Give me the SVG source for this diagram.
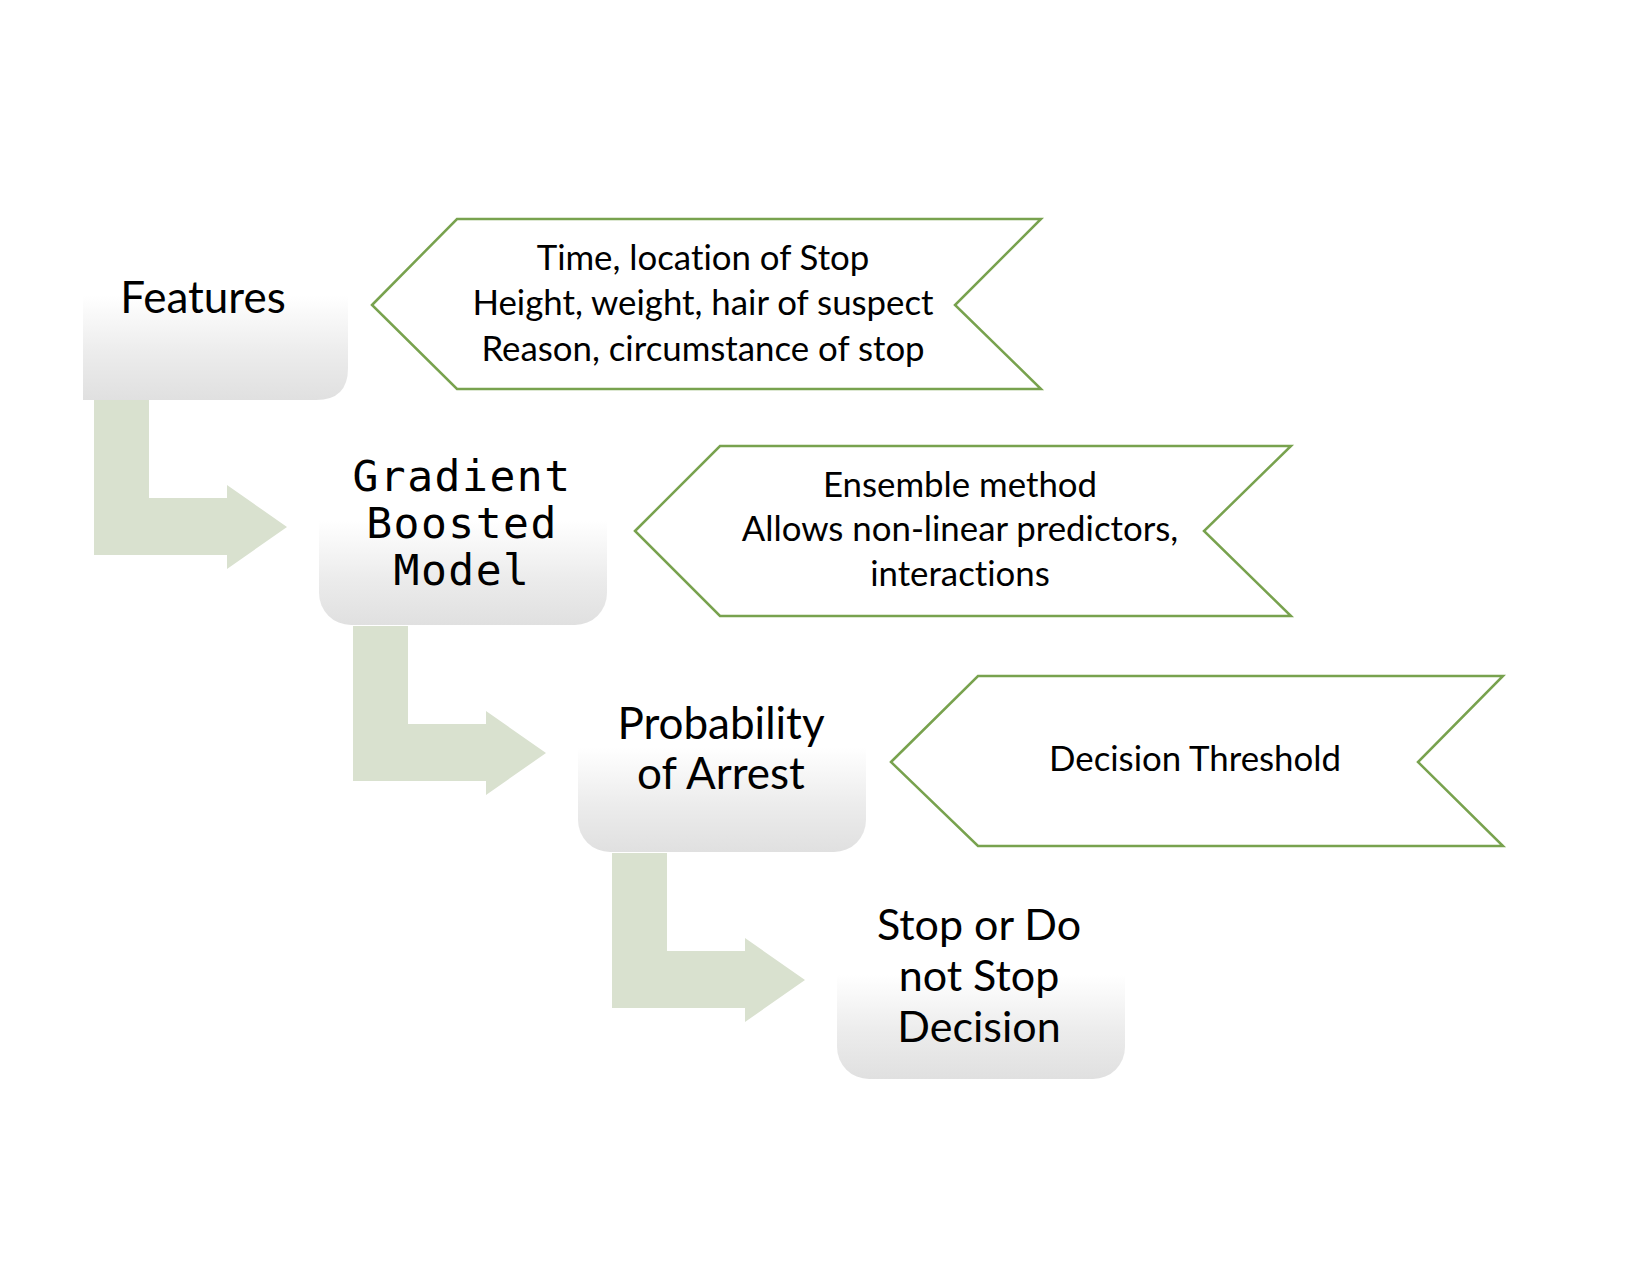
<svg xmlns="http://www.w3.org/2000/svg" width="1650" height="1275" viewBox="0 0 1650 1275">
  <defs>
    <linearGradient id="boxGrad" x1="0" y1="0" x2="0" y2="1">
      <stop offset="0" stop-color="#ffffff"/>
      <stop offset="0.45" stop-color="#ffffff"/>
      <stop offset="0.75" stop-color="#ececec"/>
      <stop offset="1" stop-color="#e0e0e0"/>
    </linearGradient>
  </defs>
  <style>
    .box { fill: url(#boxGrad); }
    .arrow { fill: #d9e1cf; }
    .callout { fill: #ffffff; stroke: #78a24e; stroke-width: 2.5; }
    .lbl { font-family: Lato, "Liberation Sans", sans-serif; font-size: 44px; fill: #000; text-anchor: middle; font-variant-ligatures: none; }
    .mono { font-family: "DejaVu Sans Mono", "Liberation Mono", monospace; font-size: 43px; fill: #000; text-anchor: middle; letter-spacing: 1.5px; }
    .txt { font-family: Lato, "Liberation Sans", sans-serif; font-size: 34.8px; fill: #000; text-anchor: middle; font-variant-ligatures: none; }
  </style>
  <rect width="1650" height="1275" fill="#ffffff"/>

  <g id="connectors">
    <path class="arrow" d="M94,400 H149 V498 H227 V485 L287,527 L227,569 V555 H94 Z"/>
    <path class="arrow" d="M353,626 H408 V724 H486 V711 L546,753 L486,795 V781 H353 Z"/>
    <path class="arrow" d="M612,853 H667 V951 H745 V938 L805,980 L745,1022 V1008 H612 Z"/>
  </g>

  <g id="callout-features">
    <polygon class="callout" points="372,305 457,219 1041,219 955,305 1041,389 457,389"/>
    <text class="txt" x="703" y="270">Time, location of Stop</text>
    <text class="txt" x="703" y="315">Height, weight, hair of suspect</text>
    <text class="txt" x="703" y="361">Reason, circumstance of stop</text>
  </g>
  <g id="callout-model">
    <polygon class="callout" points="635,531 720,446 1291,446 1204,531 1291,616 720,616"/>
    <text class="txt" x="960" y="497">Ensemble method</text>
    <text class="txt" x="960" y="541">Allows non-linear predictors,</text>
    <text class="txt" x="960" y="586">interactions</text>
  </g>
  <g id="callout-probability">
    <polygon class="callout" points="891,762 978,676 1503,676 1418,762 1503,846 978,846"/>
    <text class="txt" x="1195" y="771">Decision Threshold</text>
  </g>

  <g id="node-features">
    <path class="box" d="M83,210 H316 Q348,210 348,242 V368 Q348,400 316,400 H83 Z"/>
    <text class="lbl" x="203" y="313">Features</text>
  </g>
  <g id="node-model">
    <rect class="box" x="319" y="435" width="288" height="190" rx="32" ry="32"/>
    <text class="mono" x="462" y="491">Gradient</text>
    <text class="mono" x="462" y="538">Boosted</text>
    <text class="mono" x="462" y="585">Model</text>
  </g>
  <g id="node-probability">
    <rect class="box" x="578" y="662" width="288" height="190" rx="32" ry="32"/>
    <text class="lbl" x="721" y="739">Probability</text>
    <text class="lbl" x="721" y="789">of Arrest</text>
  </g>
  <g id="node-decision">
    <rect class="box" x="837" y="889" width="288" height="190" rx="32" ry="32"/>
    <text class="lbl" x="979" y="940" style="font-size:43px">Stop or Do</text>
    <text class="lbl" x="979" y="991" style="font-size:43px">not Stop</text>
    <text class="lbl" x="979" y="1042" style="font-size:43px">Decision</text>
  </g>
</svg>
